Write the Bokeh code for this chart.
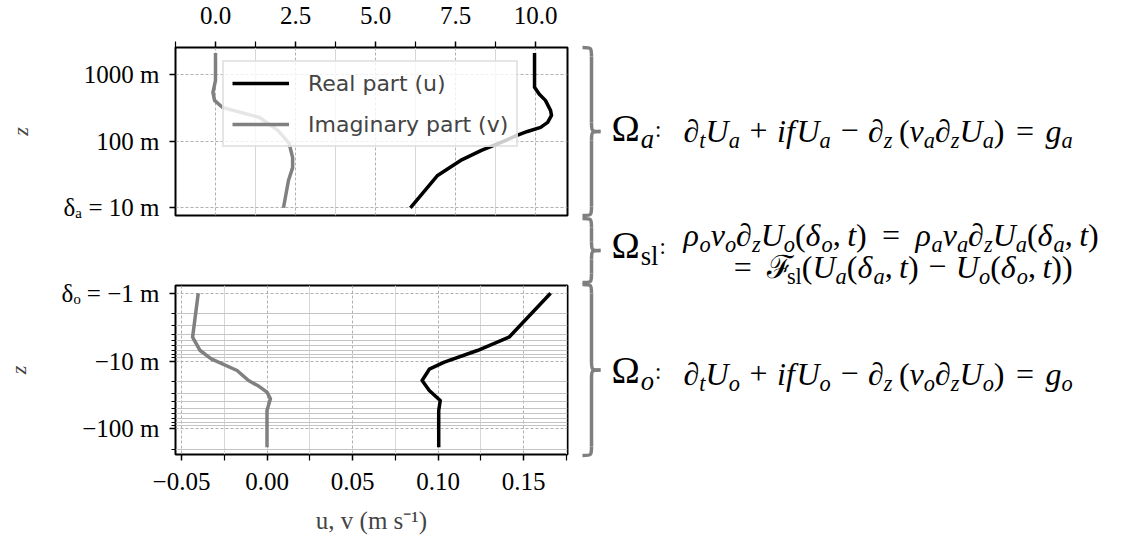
import numpy as np
from bokeh.plotting import figure
from bokeh.models import Range1d, FixedTicker, Legend, LegendItem, ColumnDataSource
from bokeh.layouts import row, column
from bokeh.embed import file_html
from bokeh.resources import INLINE
from bokeh.core.properties import value, field

# ---------------- data ----------------
# Atmosphere (top panel): height z in m, velocity in m/s
atm_z_real = [2080, 640, 500, 406, 288, 242, 190, 160, 139, 120, 98.6, 72.3, 51.2, 30.5, 10]
atm_u = [9.97, 9.97, 10.12, 10.31, 10.47, 10.5, 10.38, 10.16, 9.75, 9.4, 9.0, 8.31, 7.66, 6.94, 6.09]
atm_z_imag = [2080, 811, 535, 406, 318, 225, 144, 92, 56.6, 40, 25.6, 10]
atm_v = [0.0, 0.0, -0.08, -0.03, 0.22, 1.375, 1.95, 2.3, 2.41, 2.41, 2.28, 2.125]

# Ocean (bottom panel): depth -z in m, velocity in m/s
ocn_d_real = [1, 4.46, 7.0, 10.4, 13.2, 19.4, 27.2, 38.3, 53.7, 187]
ocn_u = [0.1658, 0.1415, 0.123, 0.1037, 0.0949, 0.0907, 0.0949, 0.1013, 0.1004, 0.1004]
ocn_d_imag = [1, 4.46, 7.0, 9.28, 13.8, 19.4, 23.8, 28.8, 36.1, 53.7, 187]
ocn_v = [-0.0402, -0.0435, -0.0391, -0.0326, -0.0175, -0.0108, -0.0045, 0.0, 0.002, 0.0, 0.0]

# ticks and labels
atm_xticks = [0.0, 2.5, 5.0, 7.5, 10.0]
atm_xlabels = ["0.0", "2.5", "5.0", "7.5", "10.0"]
atm_xminor = [-1.25, 1.25, 3.75, 6.25, 8.75]
atm_yticks = [10, 100, 1000]
atm_ylabels = ["δₐ = 10 m", "100 m", "1000 m"]
ocn_xticks = [-0.05, 0.0, 0.05, 0.10, 0.15]
ocn_xlabels = ["−0.05", "0.00", "0.05", "0.10", "0.15"]
ocn_xminor = [-0.025, 0.025, 0.075, 0.125, 0.175]
ocn_yticks = [1, 10, 100]
ocn_ylabels = ["δₒ = −1 m", "−10 m", "−100 m"]
ocn_yminor = [2, 3, 4, 5, 6, 7, 8, 9, 20, 30, 40, 50, 60, 70, 80, 90, 200]

series_names = ["Real part (u)", "Imaginary part (v)"]
series_colors = ["#000000", "#808080"]

SERIF = "Liberation Serif"
TICK_FS = "25px"


def style_axis(ax, ticks, labels, minor, minor_len=6):
    ax.ticker = FixedTicker(ticks=ticks, minor_ticks=minor)
    ax.major_label_overrides = {t: l for t, l in zip(ticks, labels)}
    ax.major_label_text_font = SERIF
    ax.major_label_text_font_size = TICK_FS
    ax.major_label_text_color = "black"
    ax.axis_line_color = None
    ax.major_tick_in = 0
    ax.major_tick_out = 6
    ax.minor_tick_in = 0
    ax.minor_tick_out = minor_len
    ax.major_tick_line_color = "black"
    ax.minor_tick_line_color = "black"
    ax.major_tick_line_width = 1.5
    ax.minor_tick_line_width = 1.2
    return ax.ticker


def style_ylabel(ax):
    ax.axis_label = "z"
    ax.axis_label_text_font = SERIF
    ax.axis_label_text_font_style = "italic"
    ax.axis_label_text_font_size = "22px"
    ax.axis_label_standoff = 28
    ax.major_label_standoff = 10


def style_grid(grid, ticker, minor_color):
    grid.ticker = ticker
    grid.grid_line_color = "#a8a8a8"
    grid.grid_line_dash = "3 2"
    grid.grid_line_width = 0.9
    grid.minor_grid_line_color = minor_color
    grid.minor_grid_line_width = 1


def style_fig(p):
    p.outline_line_color = "black"
    p.outline_line_width = 2
    p.outline_line_alpha = 1
    p.background_fill_color = "white"
    p.border_fill_color = "white"


# ---------------- top panel (atmosphere) ----------------
p1 = figure(width=578, height=248, x_range=Range1d(-1.25, 11.0), y_range=Range1d(7.67, 2512),
            y_axis_type="log", x_axis_location="above", output_backend="svg",
            toolbar_location=None, min_border_left=175, min_border_right=11,
            min_border_top=47, min_border_bottom=33)
style_fig(p1)
tx = style_axis(p1.xaxis[0], atm_xticks, atm_xlabels, atm_xminor)
p1.xaxis[0].major_label_standoff = 18
ty = style_axis(p1.yaxis[0], atm_yticks, atm_ylabels, [])
style_ylabel(p1.yaxis[0])
style_grid(p1.xgrid[0], tx, "#d6d6d6")
style_grid(p1.ygrid[0], ty, None)

r_u = p1.line(atm_u, atm_z_real, line_color=series_colors[0], line_width=3.5, line_join="round")
r_v = p1.line(atm_v, atm_z_imag, line_color=series_colors[1], line_width=3.5, line_join="round")

legend = Legend(items=[LegendItem(label=series_names[0], renderers=[r_u]),
                       LegendItem(label=series_names[1], renderers=[r_v])],
                location=(47, 68), orientation="vertical")
legend.border_line_color = "#cccccc"
legend.border_line_width = 2
legend.background_fill_color = "white"
legend.background_fill_alpha = 0.8
legend.label_text_font = "DejaVu Sans"
legend.label_text_font_size = "22px"
legend.label_text_baseline = "middle"
legend.glyph_width = 57
legend.glyph_height = 26
legend.label_height = 26
legend.label_standoff = 19
legend.spacing = 15
legend.padding = 8
legend.margin = 0
p1.add_layout(legend)

# ---------------- bottom panel (ocean) ----------------
p2 = figure(width=578, height=290, x_range=Range1d(-0.0535, 0.1757), y_range=Range1d(239, 0.77),
            y_axis_type="log", output_backend="svg", toolbar_location=None,
            min_border_left=175, min_border_right=11, min_border_top=37, min_border_bottom=84)
style_fig(p2)
bx = style_axis(p2.xaxis[0], ocn_xticks, ocn_xlabels, ocn_xminor)
p2.xaxis[0].major_label_standoff = 12
p2.xaxis[0].axis_label = "u, v (m s⁻¹)"
p2.xaxis[0].axis_label_text_font = SERIF
p2.xaxis[0].axis_label_text_font_style = "normal"
p2.xaxis[0].axis_label_text_font_size = "25px"
p2.xaxis[0].axis_label_standoff = 14
by = style_axis(p2.yaxis[0], ocn_yticks, ocn_ylabels, ocn_yminor, minor_len=4)
style_ylabel(p2.yaxis[0])
style_grid(p2.xgrid[0], bx, "#d6d6d6")
style_grid(p2.ygrid[0], by, "#c4c4c4")

p2.line(ocn_u, ocn_d_real, line_color=series_colors[0], line_width=3.5, line_join="round")
p2.line(ocn_v, ocn_d_imag, line_color=series_colors[1], line_width=3.5, line_join="round")

# ---------------- right panel: braces + equations ----------------
W3, H3 = 540, 538
p3 = figure(width=W3, height=H3, x_range=Range1d(0, W3), y_range=Range1d(H3, 0),
            x_axis_type=None, y_axis_type=None, output_backend="svg", toolbar_location=None,
            min_border=0)
p3.outline_line_color = None
p3.xgrid.visible = False
p3.ygrid.visible = False
p3.background_fill_color = "white"
p3.border_fill_color = "white"

# braces: (top, bottom) in panel pixels
brace_spans = [(47, 215), (218, 282), (284, 455)]
bz = dict(x0=[], y0=[], x1=[], y1=[], cx0=[], cy0=[], cx1=[], cy1=[])
seg_lines = dict(xs=[], ys=[])
xl, xs_, xt = 4, 13, 22
for (yt, yb) in brace_spans:
    ym = 0.5 * (yt + yb)
    h = 9
    curves = [
        ((xl, yt), (xs_, yt), (xs_, yt), (xs_, yt + h)),
        ((xs_, ym - h), (xs_, ym), (xs_, ym), (xt, ym)),
        ((xt, ym), (xs_, ym), (xs_, ym), (xs_, ym + h)),
        ((xs_, yb - h), (xs_, yb), (xs_, yb), (xl, yb)),
    ]
    for a, c0, c1, b in curves:
        bz["x0"].append(a[0]); bz["y0"].append(a[1])
        bz["x1"].append(b[0]); bz["y1"].append(b[1])
        bz["cx0"].append(c0[0]); bz["cy0"].append(c0[1])
        bz["cx1"].append(c1[0]); bz["cy1"].append(c1[1])
    seg_lines["xs"] += [[xs_, xs_], [xs_, xs_]]
    seg_lines["ys"] += [[yt + h, ym - h], [ym + h, yb - h]]
p3.bezier(x0="x0", y0="y0", x1="x1", y1="y1", cx0="cx0", cy0="cy0", cx1="cx1", cy1="cy1",
          source=ColumnDataSource(bz), line_color="#7f7f7f", line_width=3.5)
p3.multi_line(xs="xs", ys="ys", source=ColumnDataSource(seg_lines), line_color="#7f7f7f",
              line_width=3.5)

# approximate advance widths (em) for Liberation Serif
W_IT = {'a': .5, 'f': .278, 'g': .5, 'i': .278, 't': .278, 'z': .389, 'o': .5, 'U': .722,
        'ν': .444, 'ρ': .5, 'δ': .5, '∂': .494, 's': .389, 'l': .278}
W_RM = {'(': .333, ')': .333, ',': .25, ' ': .25, '+': .564, '−': .564, '=': .564, ':': .278,
        's': .389, 'l': .278, 'Ω': .768, 'ℱ': .62, 'a': .444, 'o': .5}


def tw(txt, italic):
    tab = W_IT if italic else W_RM
    return sum(tab.get(c, .5) for c in txt)


rows = dict(x=[], y=[], text=[], fs=[], st=[])


def lay(x, base, segs, size, emit=True):
    """Lay out math segments along a baseline; texts are drawn with a middle baseline."""
    for seg in segs:
        if seg[0] == "gap":
            x += seg[1] * size
            continue
        text, st = seg
        if st in ("si", "sr"):
            fs = size * 0.7
            b = base + 0.2 * size
        elif st == "c":
            fs = size * 0.6
            b = base - 0.08 * size
        else:
            fs = size
            b = base
        italic = st in ("i", "si")
        if emit:
            rows["x"].append(x); rows["y"].append(b - 0.33 * fs); rows["text"].append(text)
            rows["fs"].append("%.1fpx" % fs); rows["st"].append("italic" if italic else "normal")
        x += tw(text, italic) * fs
    return x


BIN = ("gap", 0.30)
REL = ("gap", 0.36)
REL2 = ("gap", 0.48)
THIN = ("gap", 0.2)
COMMA = ("gap", 0.2)


def Uu(s):
    return [("U", "i"), (s, "si")]


def eq_main(s):
    return ([("∂", "i"), ("t", "si")] + Uu(s) + [BIN, ("+", "r"), BIN, ("i", "i"), ("f", "i"),
            ("gap", 0.05)] + Uu(s) + [BIN, ("−", "r"), BIN, ("∂", "i"), ("z", "si"), THIN,
            ("(", "r"), ("ν", "i"), (s, "si"), ("∂", "i"), ("z", "si")] + Uu(s) +
            [(")", "r"), REL, ("=", "r"), REL, ("g", "i"), (s, "si")])


eq_sl1 = ([("ρ", "i"), ("o", "si"), ("ν", "i"), ("o", "si"), ("∂", "i"), ("z", "si")] + Uu("o") +
          [("(", "r"), ("δ", "i"), ("o", "si"), (",", "r"), COMMA, ("t", "i"), (")", "r"),
           REL2, ("=", "r"), REL2,
           ("ρ", "i"), ("a", "si"), ("ν", "i"), ("a", "si"), ("∂", "i"), ("z", "si")] + Uu("a") +
          [("(", "r"), ("δ", "i"), ("a", "si"), (",", "r"), COMMA, ("t", "i"), (")", "r")])
eq_sl2 = ([("=", "r"), REL2, ("ℱ", "r"), ("sl", "sr"), ("(", "r")] + Uu("a") +
          [("(", "r"), ("δ", "i"), ("a", "si"), (",", "r"), COMMA, ("t", "i"), (")", "r"),
           BIN, ("−", "r"), BIN] + Uu("o") +
          [("(", "r"), ("δ", "i"), ("o", "si"), (",", "r"), COMMA, ("t", "i"), (")", "r"),
           (")", "r")])

OM = 38
EQ = 32
X_OM, X_EQ = 33, 105
lay(X_OM, 140, [("Ω", "r"), ("a", "si"), ("gap", 0.03), (":", "c")], OM)
lay(X_EQ, 141, eq_main("a"), EQ)

lay(X_OM, 257, [("Ω", "r"), ("sl", "sr"), ("gap", 0.03), (":", "c")], OM)
x_end1 = lay(X_EQ, 245, eq_sl1, EQ)
w2 = lay(0, 0, eq_sl2, EQ, emit=False)
lay(0.5 * (X_EQ + x_end1) - 0.5 * w2 + 12, 277, eq_sl2, EQ)

lay(X_OM, 382, [("Ω", "r"), ("o", "si"), ("gap", 0.03), (":", "c")], OM)
lay(X_EQ, 384, eq_main("o"), EQ)

p3.text(x="x", y="y", text="text", source=ColumnDataSource(rows),
        text_font=value(SERIF), text_font_size=field("fs"), text_font_style=field("st"),
        text_baseline="middle", text_align="left", text_color="black")

layout = row(column(p1, p2), p3)
open("out.html", "w").write(file_html(layout, INLINE))
